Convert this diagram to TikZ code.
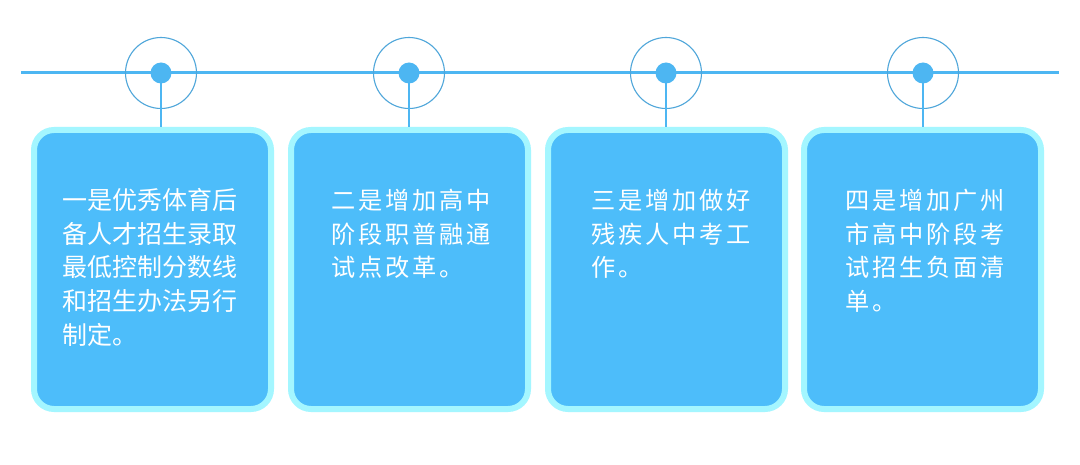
\documentclass[tikz,border=0pt]{standalone}
\usepackage{fontspec}
\newfontfamily\cjk{Noto Sans CJK SC}
\newfontfamily\cjkwide[LetterSpace=12]{Noto Sans CJK SC}
\definecolor{linec}{HTML}{4DB6F2}
\definecolor{ringc}{HTML}{4FA6DA}
\definecolor{cardfill}{HTML}{4DBDFA}
\definecolor{cardedge}{HTML}{A4F6FF}
\tikzset{
  card/.style={draw=cardedge, line width=6pt, fill=cardfill, rounded corners=20pt},
  ring/.style={draw=ringc, line width=1.1pt},
  hubdot/.style={circle, fill=linec, minimum size=21pt, inner sep=0pt},
  stem/.style={draw=linec, line width=2.6pt},
  cardtext/.style={anchor=base west, inner sep=0pt, align=left, text=white, font=\cjk\fontsize{25}{33.7}\selectfont},
  cardtextw/.style={cardtext, font=\cjkwide\fontsize{24.2}{33.7}\selectfont}
}
\begin{document}
\begin{tikzpicture}[x=1pt,y=-1pt]
\useasboundingbox (0,0) rectangle (1080,465);
\fill[white] (0,0) rectangle (1080,465);
% main line
\coordinate (L) at (21,73);
\coordinate (R) at (1059,73);
\draw[linec, line width=3pt] (L) -- (R);
% cards
\draw[card] (34,130) rectangle (271,409);
\draw[card] (291,130) rectangle (528,409);
\draw[card] (548,130) rectangle (785,409);
\draw[card] (804,130) rectangle (1041,409);
\coordinate (c1) at (161,127);
\coordinate (c2) at (409,127);
\coordinate (c3) at (666,127);
\coordinate (c4) at (923,127);
% hubs
\foreach \i/\x in {1/161,2/409,3/666,4/923}{
  \draw[ring] (\x,73) circle (35.5pt);
  \node[hubdot] (h\i) at (\x,73) {};
  \draw[stem] (h\i.center) -- (c\i);
}
% texts (base anchor = baseline of the last line)
\node[cardtext] (t1) at (62,344.3) {一是优秀体育后\\备人才招生录取\\最低控制分数线\\和招生办法另行\\制定。};
\node[cardtextw] (t2) at (331,276.9) {二是增加高中\\阶段职普融通\\试点改革。};
\node[cardtextw] (t3) at (591,276.9) {三是增加做好\\残疾人中考工\\作。};
\node[cardtextw] (t4) at (845,310.6) {四是增加广州\\市高中阶段考\\试招生负面清\\单。};
\end{tikzpicture}
\end{document}
